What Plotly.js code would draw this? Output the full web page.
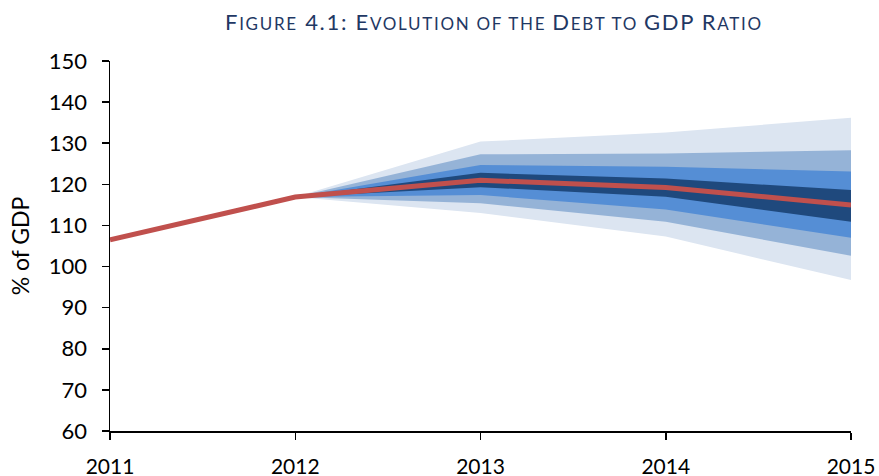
<!DOCTYPE html>
<html>
<head>
<meta charset="utf-8">
<script src="https://cdn.plot.ly/plotly-3.0.1.min.js"></script>
<style>html,body{margin:0;padding:0;background:#fff;}#chart{width:879px;height:476px;}</style>
</head>
<body>
<div id="chart"></div>
<script>
// Data
const years = [2011, 2012, 2013, 2014, 2015];
const central = [106.5, 116.9, 121.0, 119.2, 115.0];

const bandYears = [2012, 2013, 2014, 2015];
const outerLow  = [116.9, 113.0, 107.3, 96.7];
const outerHigh = [116.9, 130.4, 132.6, 136.2];
const wideLow   = [116.9, 115.4, 110.9, 102.6];
const wideHigh  = [116.9, 127.3, 127.5, 128.3];
const midLow    = [116.9, 117.4, 113.9, 107.0];
const midHigh   = [116.9, 124.7, 124.3, 123.1];
const innerLow  = [116.9, 119.3, 117.0, 110.9];
const innerHigh = [116.9, 122.8, 121.4, 118.6];

const yTicks = [60, 70, 80, 90, 100, 110, 120, 130, 140, 150];
const xTicks = ['2011', '2012', '2013', '2014', '2015'];

// Title parts: [text, isCapital]
const titleParts = [
  ['F', true], ['IGURE', false], [' 4.1: ', true], ['E', true], ['VOLUTION OF THE ', false],
  ['D', true], ['EBT TO ', false], ['GDP R', true], ['ATIO', false]
];

const bands = [
  [outerLow, outerHigh, '#dce5f1'],
  [wideLow, wideHigh, '#95b3d7'],
  [midLow, midHigh, '#558ed5'],
  [innerLow, innerHigh, '#1f497d']
];

const traces = [];
bands.forEach(function (b) {
  traces.push({x: bandYears, y: b[0], mode: 'lines', line: {width: 0}, hoverinfo: 'skip', showlegend: false});
  traces.push({x: bandYears, y: b[1], mode: 'lines', line: {width: 0}, fill: 'tonexty', fillcolor: b[2], hoverinfo: 'skip', showlegend: false});
});
traces.push({x: years, y: central, mode: 'lines', line: {color: '#c0504d', width: 5}, showlegend: false});

const titleHtml = titleParts.map(function (p) {
  return '<span style="font-size:' + (p[1] ? 22 : 17) + 'px;letter-spacing:1.7px">' + p[0] + '</span>';
}).join('');

const layout = {
  width: 879, height: 476,
  margin: {l: 110, r: 28, t: 61, b: 45},
  paper_bgcolor: '#ffffff', plot_bgcolor: '#ffffff',
  font: {family: 'Lato, "Open Sans", sans-serif', color: '#000000', size: 21},
  annotations: [{
    text: titleHtml, xref: 'paper', yref: 'paper', x: (494 - 110) / 741, y: 1 + (61 - 21) / 370,
    xanchor: 'center', yanchor: 'middle', showarrow: false,
    font: {family: 'Lato, "Open Sans", sans-serif', size: 22, color: '#1f3864'}
  }],
  xaxis: {
    range: [2011, 2015], tickvals: years, ticktext: xTicks,
    showgrid: false, zeroline: false, showline: true, linecolor: '#000', linewidth: 1.5,
    ticks: 'outside', ticklen: 7, tickcolor: '#000', tickwidth: 1.5,
    ticklabelstandoff: 9, automargin: false, fixedrange: true
  },
  yaxis: {
    range: [60, 150], tickvals: yTicks, tickfont: {size: 22},
    showgrid: false, zeroline: false, showline: true, linecolor: '#000', linewidth: 1.5,
    ticks: 'outside', ticklen: 7, tickcolor: '#000', tickwidth: 1.5,
    ticklabelstandoff: 10, automargin: false, fixedrange: true,
    title: {text: '% of GDP', font: {size: 23}, standoff: 13}
  }
};

Plotly.newPlot('chart', traces, layout, {staticPlot: true, displayModeBar: false});
</script>
</body>
</html>
